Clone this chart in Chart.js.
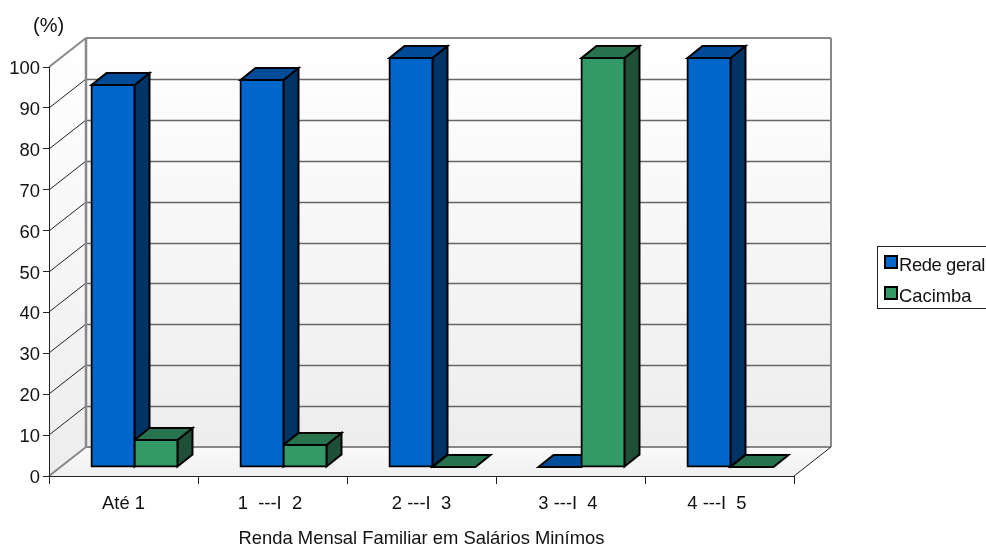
<!DOCTYPE html>
<html>
<head>
<meta charset="utf-8">
<title>Renda Mensal Familiar</title>
<script src="https://cdn.jsdelivr.net/npm/chart.js@4"></script>
<style>
  html, body { margin: 0; padding: 0; background: #fff; overflow: hidden; }
  #wrap { position: relative; width: 986px; height: 546px; overflow: hidden; font-family: "Liberation Sans", Arial, sans-serif; color: #111; }
  #barChart { position: absolute; left: 0; top: 0; }
  #unit { position: absolute; left: 33px; top: 14px; font-size: 20px; line-height: 23px; }
  #legend { position: absolute; left: 877px; top: 246px; width: 130px; height: 61px; border: 1px solid #222; box-sizing: content-box; }
  #legend div { position: absolute; left: 21px; font-size: 18.4px; line-height: 20px; white-space: nowrap; }
  #legend span { position: absolute; left: -15px; top: 0; width: 10px; height: 10px; border: 2px solid #000; }
</style>
</head>
<body>
<div id="wrap">
  <canvas id="barChart" width="986" height="546"></canvas>
  <div id="unit">(%)</div>
  <div id="legend"></div>
</div>
<script>
// valores
const categories = ['Até 1', '1  ---I  2 ', '2 ---I  3', '3 ---I  4 ', '4 ---I  5 '];
const redeGeral = [93.4, 94.6, 100, 0, 100];
const cacimba = [6.6, 5.4, 0, 100, 0];
const yTicks = [0, 10, 20, 30, 40, 50, 60, 70, 80, 90, 100];
const seriesNames = ['Rede geral', 'Cacimba'];

const frontColors = ['#0066CC', '#339966'];
const topColors = ['#004C99', '#26734D'];
const sideColors = ['#003366', '#1F4F37'];

// profundidade do "3D"
const wallDepth = { x: 37, y: -29 };
const barInset = { x: 11, y: -9 };
const barDepth = { x: 15, y: -12 };

function poly(ctx, pts, fill, stroke, width) {
    ctx.beginPath();
    pts.forEach((p, i) => i ? ctx.lineTo(p[0], p[1]) : ctx.moveTo(p[0], p[1]));
    ctx.closePath();
    if (fill) { ctx.fillStyle = fill; ctx.fill(); }
    if (stroke) { ctx.strokeStyle = stroke; ctx.lineWidth = width; ctx.lineJoin = 'miter'; ctx.stroke(); }
}

function line(ctx, x1, y1, x2, y2, color, width) {
    ctx.beginPath();
    ctx.moveTo(x1, y1);
    ctx.lineTo(x2, y2);
    ctx.strokeStyle = color;
    ctx.lineWidth = width;
    ctx.stroke();
}

// paredes e chao, atras de tudo
const wallsPlugin = {
    id: 'walls',
    beforeDraw(chart) {
        const ctx = chart.ctx;
        const a = chart.chartArea;
        const dx = wallDepth.x, dy = wallDepth.y;
        const y = chart.scales.y;

        // rotulos do eixo y um pouco mais baixos, como no original
        y.getLabelItems().forEach(item => {
            if (!item.shifted) { item.textOffset += 2; item.shifted = true; }
        });

        ctx.save();

        const backGrad = ctx.createLinearGradient(0, a.top + dy, 0, a.bottom + dy);
        backGrad.addColorStop(0, '#ffffff');
        backGrad.addColorStop(1, '#ededed');
        poly(ctx, [[a.left + dx, a.top + dy], [a.right + dx, a.top + dy], [a.right + dx, a.bottom + dy], [a.left + dx, a.bottom + dy]], backGrad);

        const leftGrad = ctx.createLinearGradient(0, a.top + dy, 0, a.bottom);
        leftGrad.addColorStop(0, '#ffffff');
        leftGrad.addColorStop(1, '#ededed');
        poly(ctx, [[a.left, a.top], [a.left + dx, a.top + dy], [a.left + dx, a.bottom + dy], [a.left, a.bottom]], leftGrad);

        const floorGrad = ctx.createLinearGradient(0, a.bottom + dy, 0, a.bottom);
        floorGrad.addColorStop(0, '#fafafa');
        floorGrad.addColorStop(1, '#f0f0f0');
        poly(ctx, [[a.left, a.bottom], [a.right, a.bottom], [a.right + dx, a.bottom + dy], [a.left + dx, a.bottom + dy]], floorGrad);

        y.ticks.forEach(t => {
            const py = Math.round(y.getPixelForValue(t.value));
            if (t.value === 0 || t.value === 100) return;
            line(ctx, a.left, py, a.left + dx, py + dy, '#222', 1);
            line(ctx, a.left + dx, py + dy + 0.5, a.right + dx, py + dy + 0.5, '#666', 1.3);
        });

        line(ctx, a.left, a.top, a.left + dx, a.top + dy, '#888', 2);
        line(ctx, a.left, a.bottom, a.left + dx, a.bottom + dy, '#888', 2);
        line(ctx, a.left + dx, a.bottom + dy, a.right + dx, a.bottom + dy, '#888', 2);
        line(ctx, a.left + dx, a.top + dy, a.right + dx, a.top + dy, '#888', 2);
        line(ctx, a.left + dx, a.top + dy, a.left + dx, a.bottom + dy, '#888', 2.5);
        line(ctx, a.right + dx, a.top + dy, a.right + dx, a.bottom + dy, '#888', 2);
        line(ctx, a.right, a.bottom, a.right + dx, a.bottom + dy, '#222', 1);
        ctx.restore();
    },
    // lados e topos das barras, a frente vem do proprio Chart.js
    beforeDatasetsDraw(chart) {
        const ctx = chart.ctx;
        ctx.save();
        ctx.translate(barInset.x, barInset.y);
        const dx = barDepth.x, dy = barDepth.y;
        chart.data.datasets.forEach((ds, di) => {
            chart.getDatasetMeta(di).data.forEach(bar => {
                const p = bar.getProps(['x', 'y', 'base', 'width'], true);
                const l = p.x - p.width / 2, r = p.x + p.width / 2;
                if (p.base - p.y > 0.5) {
                    poly(ctx, [[r, p.y], [r + dx, p.y + dy], [r + dx, p.base + dy], [r, p.base]], sideColors[di], '#000', 2);
                }
                poly(ctx, [[l, p.y], [r, p.y], [r + dx, p.y + dy], [l + dx, p.y + dy]], topColors[di], '#000', 2);
            });
        });
        ctx.restore();
        // desloca as frentes para dentro do chao
        ctx.save();
        ctx.translate(barInset.x, barInset.y);
    },
    afterDatasetsDraw(chart) {
        chart.ctx.restore();
    }
};

const ctx = document.getElementById('barChart').getContext('2d');
const barChart = new Chart(ctx, {
    type: 'bar',
    data: {
        labels: categories,
        datasets: [
            { label: seriesNames[0], data: redeGeral, backgroundColor: frontColors[0] },
            { label: seriesNames[1], data: cacimba, backgroundColor: frontColors[1] }
        ]
    },
    options: {
        responsive: false,
        animation: false,
        layout: { padding: { top: 67, right: 192, left: 0, bottom: 0 } },
        datasets: {
            bar: {
                categoryPercentage: 0.577,
                barPercentage: 1,
                borderColor: '#000',
                borderWidth: 2,
                borderSkipped: false,
                inflateAmount: 1,
                clip: false
            }
        },
        plugins: {
            legend: { display: false },
            tooltip: { enabled: false }
        },
        scales: {
            x: {
                afterFit(scale) { scale.height = 70; },
                grid: { drawOnChartArea: false, color: '#222', tickLength: 8 },
                border: { color: '#222' },
                ticks: { color: '#111', font: { family: '"Liberation Sans"', size: 18.4 }, padding: 9, maxRotation: 0, autoSkip: false },
                title: {
                    display: true,
                    text: 'Renda Mensal Familiar em Salários Minímos',
                    color: '#111',
                    font: { family: '"Liberation Sans"', size: 18.4 },
                    padding: { top: 16, bottom: -4 }
                }
            },
            y: {
                min: 0,
                max: 100,
                afterFit(scale) { scale.width = 49; },
                afterBuildTicks(scale) { scale.ticks = yTicks.map(v => ({ value: v })); },
                grid: { drawOnChartArea: false, color: '#222', tickLength: 6 },
                border: { color: '#222' },
                ticks: { color: '#111', font: { family: '"Liberation Sans"', size: 18.4 }, padding: 3 }
            }
        }
    },
    plugins: [wallsPlugin]
});

// legenda em html, a caixa passa da borda como no original
const legend = document.getElementById('legend');
seriesNames.forEach((name, i) => {
    const row = document.createElement('div');
    row.style.top = (i === 0 ? 8 : 39) + 'px';
    if (i === 0) row.style.letterSpacing = '-0.4px';
    row.textContent = name;
    const box = document.createElement('span');
    box.style.background = frontColors[i];
    row.appendChild(box);
    legend.appendChild(row);
});
</script>
</body>
</html>
